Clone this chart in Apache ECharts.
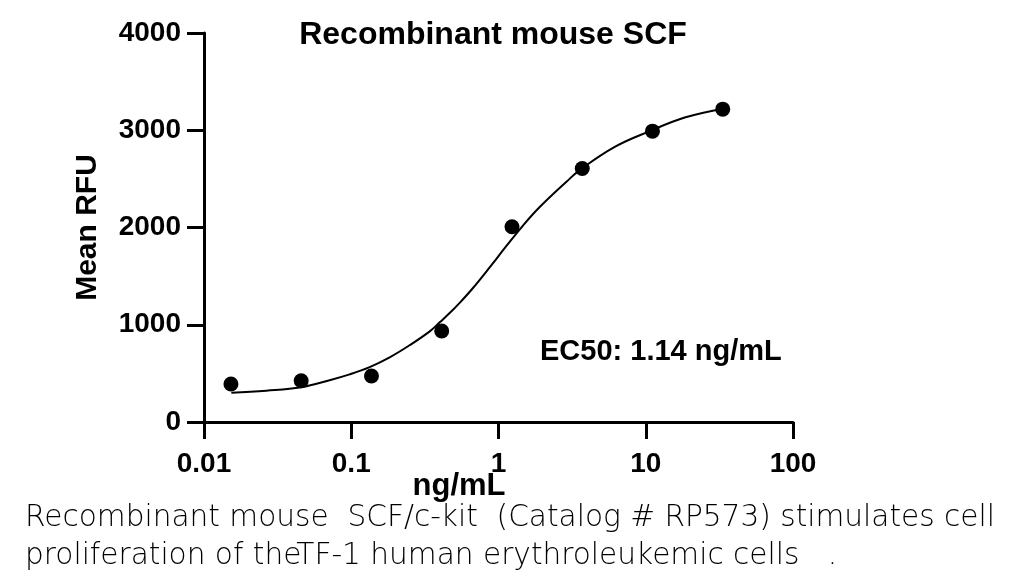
<!DOCTYPE html>
<html>
<head>
<meta charset="utf-8">
<script src="https://cdn.jsdelivr.net/npm/echarts@6/dist/echarts.min.js"></script>
<style>
html, body { margin: 0; padding: 0; background: #fff; }
#main { width: 1024px; height: 576px; }
</style>
</head>
<body>
<div id="main"></div>
<script>
// measured points: concentration (ng/mL) and mean RFU
var concentrations = [0.01524, 0.0457, 0.1372, 0.4115, 1.235, 3.704, 11.11, 33.33];
var meanRFU = [391, 424, 473, 935, 2007, 2607, 2991, 3217];

// fitted curve
var curveX = [0.01533, 0.02648, 0.04578, 0.0713, 0.0975, 0.1334, 0.1824, 0.2495, 0.3412, 0.3986,
              0.466, 0.545, 0.671, 0.871, 1.132, 1.467, 1.905, 2.893, 3.561, 6.158, 10.65, 18.40, 32.18];
var curveY = [301, 322, 358, 430, 490, 565, 665, 790, 932, 1025,
              1120, 1225, 1378, 1590, 1810, 2020, 2210, 2470, 2590, 2829, 2991, 3131, 3217];

var xTickLabels = ['0.01', '0.1', '1', '10', '100'];
var yTicks = [0, 1000, 2000, 3000, 4000];

var titleText = 'Recombinant mouse SCF';
var ec50Text = 'EC50: 1.14 ng/mL';
var captionLines = [
    'Recombinant mouse  SCF/c-kit  (Catalog # RP573) stimulates cell',
    'proliferation of theTF-1 human erythroleukemic cells   .'
];

var boldFont = "'Liberation Sans', Arial, sans-serif";
var captionFont = '200 29.6px "DejaVu Sans", sans-serif';

var scatterData = concentrations.map(function (c, i) { return [c, meanRFU[i]]; });
var curveData = curveX.map(function (c, i) { return [c, curveY[i]]; });

var myChart = echarts.init(document.getElementById('main'));
myChart.setOption({
    animation: false,
    backgroundColor: '#fff',
    grid: {
        left: 204,
        right: 231,
        top: 33,
        bottom: 154,
        containLabel: false,
        outerBoundsMode: 'none'
    },
    xAxis: {
        type: 'log',
        logBase: 10,
        min: 0.01,
        max: 100,
        axisLine: { show: true, lineStyle: { color: '#000', width: 3 } },
        axisTick: { show: true, length: 17, lineStyle: { color: '#000', width: 3 } },
        minorTick: { show: false },
        splitLine: { show: false },
        axisLabel: {
            margin: 28,
            color: '#000',
            fontFamily: boldFont,
            fontWeight: 'bold',
            fontSize: 28,
            formatter: function (v) {
                var idx = Math.round(Math.log10(v)) + 2;
                return xTickLabels[idx] !== undefined ? xTickLabels[idx] : '';
            }
        }
    },
    yAxis: {
        type: 'value',
        min: yTicks[0],
        max: yTicks[yTicks.length - 1],
        interval: 1000,
        name: 'Mean RFU',
        nameLocation: 'middle',
        nameRotate: 90,
        nameGap: 101,
        nameTextStyle: { color: '#000', fontFamily: boldFont, fontWeight: 'bold', fontSize: 30 },
        axisLine: { show: true, lineStyle: { color: '#000', width: 3 } },
        axisTick: { show: true, length: 17, lineStyle: { color: '#000', width: 3 } },
        splitLine: { show: false },
        axisLabel: {
            margin: 23,
            color: '#000',
            fontFamily: boldFont,
            fontWeight: 'bold',
            fontSize: 28,
            formatter: function (v) { return String(v); }
        }
    },
    series: [{
        name: 'fit',
        type: 'line',
        data: curveData,
        smooth: 0.4,
        showSymbol: false,
        symbol: 'none',
        lineStyle: { color: '#000', width: 2 },
        z: 2
    }, {
        name: 'points',
        type: 'scatter',
        data: scatterData,
        symbolSize: 15,
        itemStyle: { color: '#000', opacity: 1 },
        z: 3
    }],
    graphic: [{
        type: 'text',
        x: 493, y: 35,
        style: {
            text: titleText,
            fill: '#000',
            font: 'bold 32px ' + boldFont,
            textAlign: 'center',
            textVerticalAlign: 'middle'
        }
    }, {
        type: 'text',
        x: 540, y: 352,
        style: {
            text: ec50Text,
            fill: '#000',
            font: 'bold 29px ' + boldFont,
            textAlign: 'left',
            textVerticalAlign: 'middle'
        }
    }, {
        type: 'text',
        x: 459, y: 486,
        style: {
            text: 'ng/mL',
            fill: '#000',
            font: 'bold 31px ' + boldFont,
            textAlign: 'center',
            textVerticalAlign: 'middle'
        }
    }, {
        type: 'text',
        x: 25, y: 518,
        style: {
            text: captionLines[0],
            fill: '#000',
            font: captionFont,
            textAlign: 'left',
            textVerticalAlign: 'middle'
        }
    }, {
        type: 'text',
        x: 25, y: 556,
        style: {
            text: captionLines[1],
            fill: '#000',
            font: captionFont,
            textAlign: 'left',
            textVerticalAlign: 'middle'
        }
    }]
});
</script>
</body>
</html>
